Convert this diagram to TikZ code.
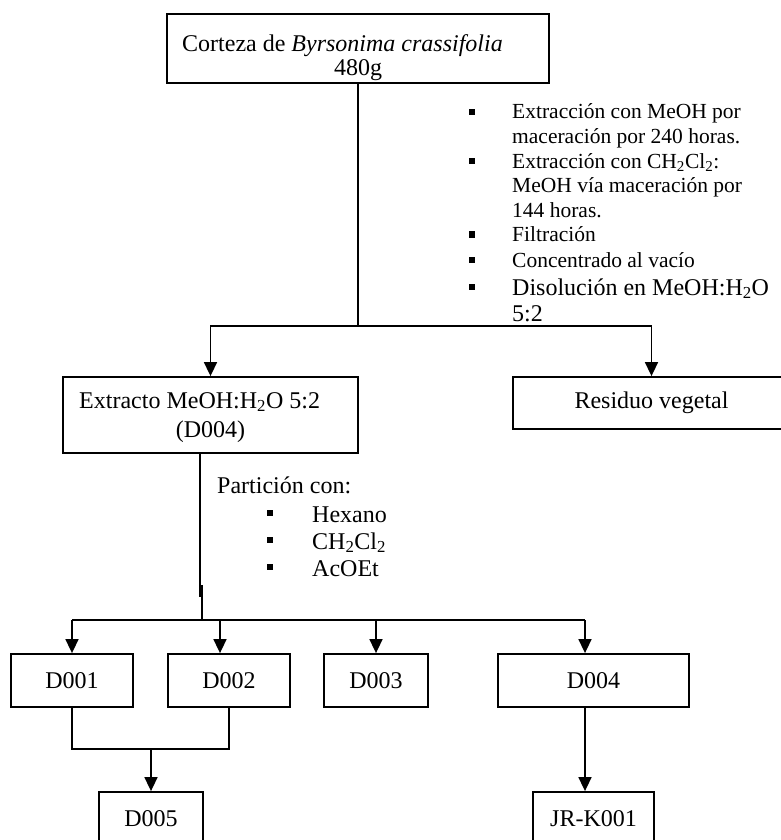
\documentclass[tikz,border=0pt]{standalone}
\usepackage{fontspec}
\setmainfont{Liberation Serif}
\usetikzlibrary{arrows.meta}
\newcommand{\fsbig}{\fontsize{24}{28}\selectfont}
\newcommand{\fssmall}{\fontsize{21.5}{25}\selectfont}
\begin{document}
\begin{tikzpicture}[x=1pt,y=-1pt,
  box/.style={draw, line width=1.8pt, inner sep=0pt, font=\fsbig},
  link/.style={line width=1.6pt},
  arr/.style={link, -{Triangle[width=13pt,length=14pt]}},
  txt/.style={inner sep=0pt, anchor=base west, font=\fsbig},
  small/.style={inner sep=0pt, anchor=base west, font=\fssmall},
  bul/.style={fill, inner sep=0pt, minimum size=6.5pt},
]
\useasboundingbox (0,0) rectangle (781,840);
\clip (0,0) rectangle (781,840);

% ---- starting material ----
\node[box, minimum width=382pt, minimum height=69pt] (top) at (358,48.5) {};
\node[txt] (toptxt) at (182,52) {Corteza de \textit{Byrsonima crassifolia}};
\node[txt, anchor=base] (topmass) at (358,76) {480g};

% ---- extraction steps ----
\node[bul] (b1) at (472,112) {};
\node[small] (s1) at (512,119) {Extracción con MeOH por};
\node[small] (s2) at (512,143.5) {maceración por 240 horas.};
\node[bul] (b2) at (472,161) {};
\node[small] (s3) at (512,168) {Extracción con CH\textsubscript{2}Cl\textsubscript{2}:};
\node[small] (s4) at (512,192.5) {MeOH vía maceración por};
\node[small] (s5) at (512,217) {144 horas.};
\node[bul] (b3) at (472,234.5) {};
\node[small] (s6) at (512,241.5) {Filtración};
\node[bul] (b4) at (472,260) {};
\node[small] (s7) at (512,267) {Concentrado al vacío};
\node[bul] (b5) at (472,287) {};
\node[txt] (s8) at (512,295) {Disolución en MeOH:H\textsubscript{2}O};
\node[txt] (s9) at (512,321) {5:2};

% ---- first split ----
\node[box, minimum width=295pt, minimum height=76pt] (extr) at (210.5,415) {};
\node[txt] (extrtxt) at (79,408) {Extracto MeOH:H\textsubscript{2}O 5:2};
\node[txt, anchor=base] (extrcode) at (210.5,437) {(D004)};
\node[box, minimum width=277pt, minimum height=52pt] (res) at (651.5,403) {Residuo vegetal};

\coordinate (split1) at (358,326);
\draw[link] (top.south) -- (split1);
\draw[arr] (split1) -| (extr.north);
\draw[arr] (split1) -| (res.north);

% ---- partition ----
\node[txt] (part) at (217,493) {Partición con:};
\node[bul] (pb1) at (270,513) {};
\node[txt] (p1) at (312,522) {Hexano};
\node[bul] (pb2) at (270,540) {};
\node[txt] (p2) at (312,549) {CH\textsubscript{2}Cl\textsubscript{2}};
\node[bul] (pb3) at (270,567) {};
\node[txt] (p3) at (312,576) {AcOEt};

% ---- fractions ----
\node[box, minimum width=122pt, minimum height=53pt] (d1) at (72,680.5) {D001};
\node[box, minimum width=122pt, minimum height=53pt] (d2) at (229,680.5) {D002};
\node[box, minimum width=104pt, minimum height=53pt] (d3) at (376,680.5) {D003};
\node[box, minimum width=191pt, minimum height=53pt] (d4) at (593.5,680.5) {D004};
\node[box, minimum width=104pt, minimum height=53pt] (d5) at (151,818.5) {D005};
\node[box, minimum width=121pt, minimum height=53pt] (jr) at (593.5,818.5) {JR-K001};

\coordinate (q1) at (200,597);
\coordinate (q2) at (202,585);
\coordinate (split2) at (202,620);
\coordinate (busl) at (72,620);
\coordinate (busr) at (585,620);
\coordinate (tap2) at (220,620);
\coordinate (join) at (151,749);

\draw[link] (extr.south -| q1) -- (q1);
\draw[link] (q2) -- (split2);
\draw[link] (busl) -- (busr);
\draw[arr] (busl) -- (d1.north);
\draw[arr] (tap2) -- (tap2 |- d2.north);
\draw[arr] (d3.north |- busl) -- (d3.north);
\draw[arr] (busr) -- (busr |- d4.north);

\draw[link] (d1.south) |- (join) -| (d2.south);
\draw[arr] (join) -- (d5.north);
\draw[arr] (busr |- d4.south) -- (busr |- jr.north);
\end{tikzpicture}
\end{document}
